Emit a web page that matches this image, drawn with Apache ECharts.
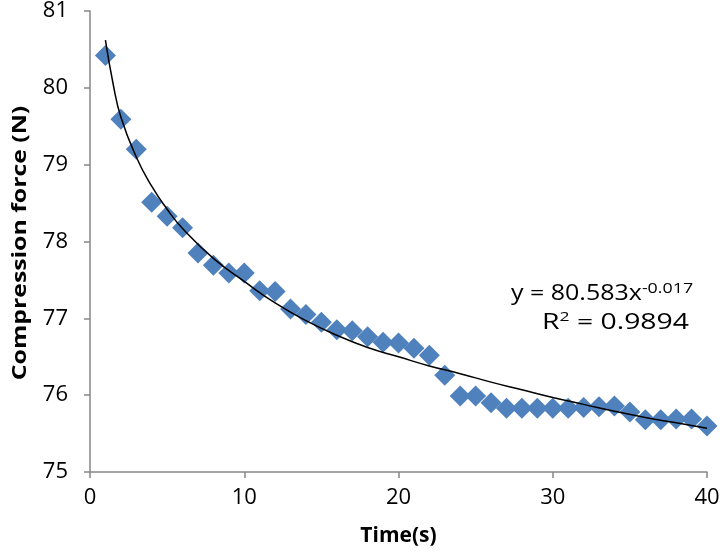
<!DOCTYPE html>
<html>
<head>
<meta charset="utf-8">
<script src="https://cdn.jsdelivr.net/npm/echarts@6/dist/echarts.min.js"></script>
<style>html,body{margin:0;padding:0;background:#fff}#c{width:725px;height:552px}</style>
</head>
<body>
<div id="c"></div>
<script>
var timeS = [1,2,3,4,5,6,7,8,9,10,11,12,13,14,15,16,17,18,19,20,21,22,23,24,25,26,27,28,29,30,31,32,33,34,35,36,37,38,39,40];
var force = [80.42,79.59,79.2,78.51,78.33,78.18,77.85,77.69,77.59,77.59,77.36,77.35,77.12,77.05,76.95,76.85,76.84,76.76,76.69,76.68,76.61,76.52,76.26,75.99,75.99,75.9,75.83,75.83,75.83,75.83,75.83,75.84,75.85,75.86,75.78,75.68,75.68,75.69,75.69,75.6];
var trendX = [1,1.5,2,3,4,5,6,8,10,12,14,16,18,20,22,24,26,28,30,32,34,36,38,40];
var trendY = [80.62,80.05,79.62,79.1,78.72,78.42,78.17,77.78,77.48,77.2,76.97,76.78,76.62,76.5,76.38,76.28,76.17,76.07,75.97,75.88,75.79,75.71,75.64,75.57];
var xTicks = [0,10,20,30,40];
var yTicks = [75,76,77,78,79,80,81];
var xTitle = 'Time(s)';
var yTitle = 'Compression force (N)';
var eqText = 'y = 80.583x';
var eqExp = '-0.017';
var r2Text = '= 0.9894';

var chart = echarts.init(document.getElementById('c'));
var fontFam = '"Open Sans", "Noto Sans", sans-serif';
chart.setOption({
  animation: false,
  backgroundColor: '#ffffff',
  grid: {left: 90, right: 18, top: 10, bottom: 80, containLabel: false},
  xAxis: {
    type: 'value', min: xTicks[0], max: xTicks[xTicks.length-1], interval: 10,
    name: xTitle, nameLocation: 'middle', nameGap: 54,
    nameTextStyle: {fontFamily: fontFam, fontSize: 21, fontWeight: 'bold', color: '#000'},
    axisLine: {show: true, lineStyle: {color: '#868686', width: 1.5}},
    axisTick: {show: true, length: 6, lineStyle: {color: '#868686', width: 1.5}},
    axisLabel: {fontFamily: fontFam, fontSize: 22, color: '#000', margin: 15},
    splitLine: {show: false}
  },
  yAxis: {
    type: 'value', min: yTicks[0], max: yTicks[yTicks.length-1], interval: 1,
    axisLine: {show: true, lineStyle: {color: '#868686', width: 1.5}},
    axisTick: {show: true, length: 6, lineStyle: {color: '#868686', width: 1.5}},
    axisLabel: {fontFamily: fontFam, fontSize: 22, color: '#000', margin: 22},
    splitLine: {show: false}
  },
  series: [
    {
      type: 'scatter', symbol: 'diamond', symbolSize: 21,
      itemStyle: {color: '#4F81BD', opacity: 1},
      data: timeS.map(function(t,i){return [t, force[i]];}),
      z: 2
    },
    {
      type: 'line', smooth: true, showSymbol: false, symbol: 'none',
      lineStyle: {color: '#000', width: 1.5},
      data: trendX.map(function(t,i){return [t, trendY[i]];}),
      z: 3
    }
  ],
  graphic: [
    {
      type: 'text', x: 20, y: 243, rotation: Math.PI / 2, scaleX: 1.24,
      style: {
        text: yTitle, fontFamily: fontFam, fontSize: 20, fontWeight: 'bold', fill: '#000',
        align: 'center', verticalAlign: 'middle'
      }
    },
    {
      type: 'text', x: 511, y: 294, scaleX: 1.19,
      style: {
        rich: {
          a: {fontFamily: fontFam, fontSize: 21, fill: '#000'},
          s: {fontFamily: fontFam, fontSize: 15, fill: '#000', padding: [0,0,11,0]}
        },
        text: '{a|' + eqText + '}{s|' + eqExp + '}',
        align: 'left', verticalAlign: 'middle'
      }
    },
    {
      type: 'text', x: 542, y: 323, scaleX: 1.35,
      style: {
        rich: {
          a: {fontFamily: fontFam, fontSize: 21, fill: '#000'},
          s: {fontFamily: fontFam, fontSize: 13, fill: '#000', padding: [0,0,11,0]}
        },
        text: '{a|R}{s|2}{a| ' + r2Text + '}',
        align: 'left', verticalAlign: 'middle'
      }
    }
  ]
});
</script>
</body>
</html>
